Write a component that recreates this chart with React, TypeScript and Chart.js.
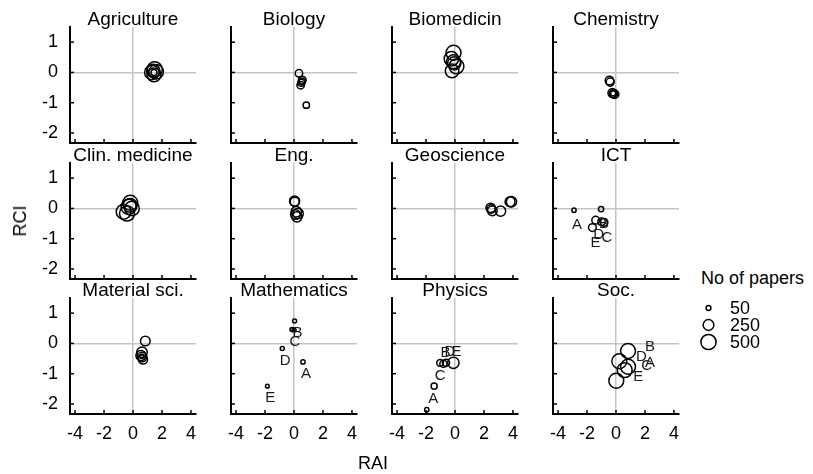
import React, { useEffect, useRef } from "react";
import { Chart, registerables } from "chart.js";

Chart.register(...registerables);

const FONT = "'Liberation Sans', Arial, Helvetica, sans-serif";

// ---------- data ----------
const PANEL_TITLES = [
  "Agriculture", "Biology", "Biomedicin", "Chemistry",
  "Clin. medicine", "Eng.", "Geoscience", "ICT",
  "Material sci.", "Mathematics", "Physics", "Soc.",
];

const X_TICKS = [-4, -2, 0, 2, 4];
const Y_TICKS = [-2, -1, 0, 1];
const X_RANGE = [-4.35, 4.35];
const Y_RANGE = [-2.33, 1.5];

const LEGEND_PAPERS = [50, 250, 500];

const AGR_RAI = [1.3, 1.5, 1.45, 1.6, 1.4, 1.45];
const AGR_RCI = [0.0, 0.1, -0.08, 0.02, 0.05, 0.0];
const AGR_N = [450, 500, 420, 460, 380, 80];

const BIO_RAI = [0.34, 0.57, 0.5, 0.46, 0.85, 0.55];
const BIO_RCI = [-0.03, -0.25, -0.34, -0.42, -1.08, -0.3];
const BIO_N = [120, 130, 110, 120, 90, 100];

const BMED_RAI = [-0.1, -0.25, -0.1, 0.1, -0.2, -0.05];
const BMED_RCI = [0.65, 0.45, 0.35, 0.2, 0.05, 0.3];
const BMED_N = [480, 450, 420, 480, 400, 380];

const CHEM_RAI = [-0.45, -0.4, -0.25, -0.1, -0.18, -0.2];
const CHEM_RCI = [-0.27, -0.32, -0.68, -0.72, -0.7, -0.69];
const CHEM_N = [160, 140, 170, 160, 150, 60];

const CLIN_RAI = [-0.19, -0.3, -0.65, -0.41, -0.07, -0.2];
const CLIN_RCI = [0.19, 0.05, -0.11, -0.17, 0.0, 0.1];
const CLIN_N = [480, 500, 470, 490, 460, 420];

const ENG_RAI = [0.04, 0.16, 0.28, 0.2, 0.1, 0.05];
const ENG_RCI = [0.24, -0.11, -0.17, -0.28, -0.2, 0.22];
const ENG_N = [220, 230, 240, 220, 200, 180];

const GEO_RAI = [2.46, 2.58, 3.15, 3.8, 3.9, 2.5];
const GEO_RCI = [0.02, -0.08, -0.09, 0.22, 0.22, -0.02];
const GEO_N = [190, 200, 220, 210, 230, 150];

const ICT_RAI = [-2.9, -1.03, -0.83, -1.4, -1.63, -1.0];
const ICT_RCI = [-0.06, -0.02, -0.46, -0.39, -0.63, -0.44];
const ICT_N = [40, 60, 130, 130, 130, 120];
const ICT_LBL = ["A", "B", "C", "D", "E", ""];

const MAT_RAI = [0.85, 0.62, 0.55, 0.62, 0.69, 0.6];
const MAT_RCI = [0.08, -0.29, -0.4, -0.45, -0.53, -0.42];
const MAT_N = [200, 240, 220, 200, 180, 40];

const MATH_RAI = [0.62, 0.04, -0.14, -0.81, -1.84, 0.0];
const MATH_RCI = [-0.61, 0.74, 0.46, -0.17, -1.41, 0.44];
const MATH_N = [40, 35, 35, 35, 30, 35];
const MATH_LBL = ["A", "B", "C", "D", "E", ""];

const PHYS_RAI = [-1.44, -0.8, -1.03, -0.62, -0.11, -1.95];
const PHYS_RCI = [-1.41, -0.67, -0.64, -0.64, -0.64, -2.19];
const PHYS_N = [80, 110, 100, 110, 280, 40];
const PHYS_LBL = ["A", "B", "C", "D", "E", ""];

const SOC_RAI = [0.83, 0.83, 0.6, 0.23, 0.02];
const SOC_RCI = [-0.77, -0.25, -0.88, -0.59, -1.23];
const SOC_N = [480, 480, 480, 480, 480];
const SOC_LBL = ["A", "B", "C", "D", "E"];

const PANEL_RAI = [AGR_RAI, BIO_RAI, BMED_RAI, CHEM_RAI, CLIN_RAI, ENG_RAI, GEO_RAI, ICT_RAI, MAT_RAI, MATH_RAI, PHYS_RAI, SOC_RAI];
const PANEL_RCI = [AGR_RCI, BIO_RCI, BMED_RCI, CHEM_RCI, CLIN_RCI, ENG_RCI, GEO_RCI, ICT_RCI, MAT_RCI, MATH_RCI, PHYS_RCI, SOC_RCI];
const PANEL_N = [AGR_N, BIO_N, BMED_N, CHEM_N, CLIN_N, ENG_N, GEO_N, ICT_N, MAT_N, MATH_N, PHYS_N, SOC_N];
const PANEL_LBL: (string[] | null)[] = [null, null, null, null, null, null, null, ICT_LBL, null, MATH_LBL, PHYS_LBL, SOC_LBL];

// ---------- styles / layout ----------
const COL_X = [70, 231, 392, 553];
const ROW_Y = [27, 163, 298];
const YW = 50;
const XH = 40;
const PAD_TOP = 10;
const TITLE_LH = 14;
const PLOT_W = 126;
const PLOT_H = 116;
const PAD_R = 10;
const CANVAS_W = YW + PLOT_W + PAD_R;
const CANVAS_H = PAD_TOP + TITLE_LH + PLOT_H + XH;

// label offsets (pixels) per labelled panel
const LABEL_OFFSETS: Record<number, number[][]> = {
  7: [[3, 15], [3, 15], [3, 15], [3, 15], [3, 15], [0, 0]],
  9: [[3, 12], [3, 12], [3, 12], [3, 12], [3, 12], [0, 0]],
  10: [[-1, 13], [2, -11], [0, 13], [4, -11], [3, -11], [0, 0]],
  11: [[22, -4], [22, -4], [22, -4], [22, -4], [22, -4]],
};

const radius = (n: number) => 0.34 * Math.sqrt(n);

function Panel({ idx }: { idx: number }) {
  const ref = useRef<HTMLCanvasElement | null>(null);
  const row = Math.floor(idx / 4);
  const col = idx % 4;
  const showX = row === 2;
  const showY = col === 0;

  useEffect(() => {
    if (!ref.current) return;
    const rai = PANEL_RAI[idx];
    const rci = PANEL_RCI[idx];
    const nn = PANEL_N[idx];
    const lbl = PANEL_LBL[idx];
    const offs = LABEL_OFFSETS[idx];

    const tickPlugin = {
      id: "inwardTicks",
      afterDraw(chart: any) {
        const { ctx, chartArea } = chart;
        const xs = chart.scales.x;
        const ys = chart.scales.y;
        ctx.save();
        ctx.strokeStyle = "#000";
        ctx.lineWidth = 1.5;
        X_TICKS.forEach((v) => {
          const px = xs.getPixelForValue(v);
          ctx.beginPath();
          ctx.moveTo(px, chartArea.bottom);
          ctx.lineTo(px, chartArea.bottom - 4);
          ctx.stroke();
        });
        Y_TICKS.forEach((v) => {
          const py = ys.getPixelForValue(v);
          ctx.beginPath();
          ctx.moveTo(chartArea.left, py);
          ctx.lineTo(chartArea.left + 4, py);
          ctx.stroke();
        });
        ctx.restore();
      },
    };

    const labelPlugin = {
      id: "pointLetters",
      afterDatasetsDraw(chart: any) {
        if (!lbl || !offs) return;
        const meta = chart.getDatasetMeta(0);
        const ctx = chart.ctx;
        ctx.save();
        ctx.font = `15px ${FONT}`;
        ctx.fillStyle = "#1a1a1a";
        ctx.textAlign = "center";
        ctx.textBaseline = "middle";
        lbl.forEach((t, i) => {
          if (!t) return;
          const el = meta.data[i];
          ctx.fillText(t, el.x + offs[i][0], el.y + offs[i][1]);
        });
        ctx.restore();
      },
    };

    const chart = new Chart(ref.current, {
      type: "bubble",
      data: {
        datasets: [
          {
            data: rai.map((x, i) => ({ x, y: rci[i], r: radius(nn[i]) })),
            backgroundColor: "rgba(0,0,0,0)",
            borderColor: "#000",
            borderWidth: 1.5,
            clip: false as any,
          },
        ],
      },
      options: {
        responsive: false,
        animation: false,
        events: [],
        layout: { padding: { top: PAD_TOP, right: PAD_R, left: 0, bottom: 0 } },
        plugins: {
          legend: { display: false },
          tooltip: { enabled: false },
          title: {
            display: true,
            text: PANEL_TITLES[idx],
            color: "#000",
            fullSize: false,
            padding: 0,
            font: { family: FONT, size: 19, weight: "normal", lineHeight: `${TITLE_LH}px` as any },
          },
        },
        scales: {
          x: {
            type: "linear",
            min: X_RANGE[0],
            max: X_RANGE[1],
            afterBuildTicks: (s: any) => {
              s.ticks = X_TICKS.map((v) => ({ value: v }));
            },
            afterFit: (s: any) => {
              s.height = XH;
            },
            ticks: {
              display: showX,
              padding: 9,
              color: "#000",
              font: { family: FONT, size: 18 },
              callback: (v: any) => String(v),
            },
            grid: {
              drawTicks: false,
              color: (c: any) => (c.tick && c.tick.value === 0 ? "#c4c4c4" : "rgba(0,0,0,0)"),
              lineWidth: 1.5,
            },
            border: { display: true, color: "#000", width: 2 },
          },
          y: {
            type: "linear",
            min: Y_RANGE[0],
            max: Y_RANGE[1],
            afterBuildTicks: (s: any) => {
              s.ticks = Y_TICKS.map((v) => ({ value: v }));
            },
            afterFit: (s: any) => {
              s.width = YW;
            },
            ticks: {
              display: showY,
              padding: 12,
              color: "#000",
              font: { family: FONT, size: 18 },
              callback: (v: any) => String(v),
            },
            grid: {
              drawTicks: false,
              color: (c: any) => (c.tick && c.tick.value === 0 ? "#c4c4c4" : "rgba(0,0,0,0)"),
              lineWidth: 1.5,
            },
            border: { display: true, color: "#000", width: 2 },
          },
        },
      },
      plugins: [tickPlugin, labelPlugin],
    } as any);
    return () => chart.destroy();
  }, [idx]);

  return (
    <canvas
      ref={ref}
      width={CANVAS_W}
      height={CANVAS_H}
      style={{
        position: "absolute",
        left: COL_X[col] - YW,
        top: ROW_Y[row] - PAD_TOP - TITLE_LH,
        width: CANVAS_W,
        height: CANVAS_H,
        display: "block",
      }}
    />
  );
}

const textStyle: React.CSSProperties = {
  position: "absolute",
  fontFamily: FONT,
  fontSize: 18,
  lineHeight: "20px",
  color: "#000",
  whiteSpace: "nowrap",
};

export default function App() {
  const legendY = [308, 325, 342];
  return (
    <div style={{ position: "absolute", left: 0, top: 0, width: 813, height: 474, background: "#fff", overflow: "hidden" }}>
      {PANEL_TITLES.map((_, i) => (
        <Panel key={i} idx={i} />
      ))}
      <div style={{ ...textStyle, left: 19.5, top: 221, transform: "translate(-50%, -50%) rotate(-90deg)" }}>RCI</div>
      <div style={{ ...textStyle, left: 373, top: 463, transform: "translate(-50%, -50%)" }}>RAI</div>
      <div style={{ ...textStyle, left: 701, top: 268 }}>No of papers</div>
      <svg style={{ position: "absolute", left: 690, top: 290, overflow: "visible" }} width={40} height={70}>
        {LEGEND_PAPERS.map((n, i) => (
          <circle key={n} cx={18.5} cy={legendY[i] - 290} r={radius(n)} fill="none" stroke="#000" strokeWidth={1.5} />
        ))}
      </svg>
      {LEGEND_PAPERS.map((n, i) => (
        <div key={n} style={{ ...textStyle, left: 730, top: legendY[i] - 10 }}>{n}</div>
      ))}
    </div>
  );
}
